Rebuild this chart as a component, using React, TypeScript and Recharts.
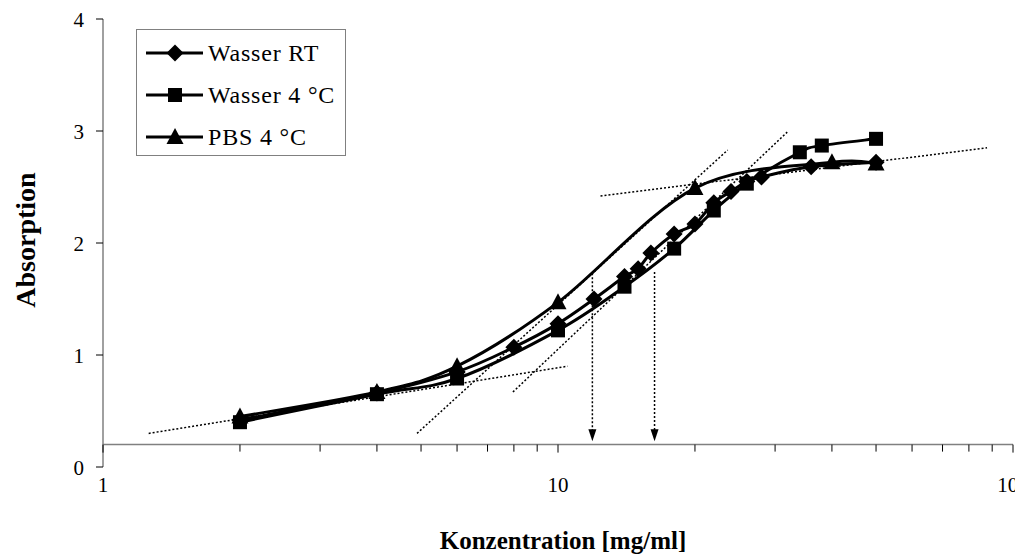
import React from 'react';
import { LineChart, Line, XAxis, YAxis, ReferenceLine, ReferenceDot, Legend, Label } from 'recharts';

// Absorption vs. Konzentration [mg/ml] for the three dilution series
const rtConc = [2, 4, 6, 8, 10, 12, 14, 15, 16, 18, 20, 22, 24, 26, 28, 36, 50];
const rtAbs = [0.42, 0.66, 0.85, 1.07, 1.28, 1.5, 1.7, 1.77, 1.91, 2.08, 2.17, 2.36, 2.46, 2.55, 2.59, 2.68, 2.72];

const w4Conc = [2, 4, 6, 10, 14, 18, 22, 26, 34, 38, 50];
const w4Abs = [0.4, 0.65, 0.79, 1.22, 1.61, 1.95, 2.29, 2.53, 2.81, 2.87, 2.93];

const pbsConc = [2, 4, 6, 10, 20, 40, 50];
const pbsAbs = [0.45, 0.67, 0.9, 1.47, 2.49, 2.72, 2.71];

const seriesNames = ['Wasser RT', 'Wasser 4 °C', 'PBS 4 °C'];

const xTicks = [1, 2, 3, 4, 5, 6, 7, 8, 9, 10, 20, 30, 40, 50, 60, 70, 80, 90, 100];
const xLabeled = [1, 10, 100];
const yTicks = [0, 1, 2, 3, 4];

// dotted tangents: [x1, y1, x2, y2]
const tangents = [
  [1.26, 0.3, 10.5, 0.9],
  [4.9, 0.3, 23.6, 2.83],
  [7.96, 0.67, 31.9, 2.99],
  [12.4, 2.42, 87.7, 2.85],
];

// turning points, marked with arrows down to the axis
const halfConc = [11.9, 16.3];
const halfAbs = [1.73, 1.74];
const arrowTipAbs = 0.23;
const axisCrossAbs = 0.2;

const FONT = '"Liberation Serif", "Times New Roman", serif';

const toPoints = (xs: number[], ys: number[]) => xs.map((x, i) => ({ x, y: ys[i] }));
const rtData = toPoints(rtConc, rtAbs);
const w4Data = toPoints(w4Conc, w4Abs);
const pbsData = toPoints(pbsConc, pbsAbs);

// Bezier smoothing like the office-style "smoothed line" (tangent = (next - prev) / 6)
function smoothCurve(context: any) {
  let pts: number[][] = [];
  return {
    areaStart() {},
    areaEnd() {},
    lineStart() {
      pts = [];
    },
    point(x: number, y: number) {
      pts.push([+x, +y]);
    },
    lineEnd() {
      const n = pts.length;
      if (!n) return;
      context.moveTo(pts[0][0], pts[0][1]);
      for (let i = 0; i < n - 1; i++) {
        const p0 = pts[Math.max(0, i - 1)];
        const p1 = pts[i];
        const p2 = pts[i + 1];
        const p3 = pts[Math.min(n - 1, i + 2)];
        context.bezierCurveTo(
          p1[0] + (p2[0] - p0[0]) / 6,
          p1[1] + (p2[1] - p0[1]) / 6,
          p2[0] - (p3[0] - p1[0]) / 6,
          p2[1] - (p3[1] - p1[1]) / 6,
          p2[0],
          p2[1]
        );
      }
    },
  };
}

const Diamond = ({ cx, cy }: any) => (
  <path d={`M${cx},${cy - 8.5}L${cx + 8.5},${cy}L${cx},${cy + 8.5}L${cx - 8.5},${cy}Z`} fill="#000" />
);
const Square = ({ cx, cy }: any) => <rect x={cx - 7} y={cy - 7} width={14} height={14} fill="#000" />;
const Triangle = ({ cx, cy }: any) => (
  <path d={`M${cx},${cy - 9}L${cx + 8.5},${cy + 7}L${cx - 8.5},${cy + 7}Z`} fill="#000" />
);

const MARKERS: Record<string, React.FC<any>> = {
  'Wasser RT': Diamond,
  'Wasser 4 °C': Square,
  'PBS 4 °C': Triangle,
};

const XTick = ({ x, y, payload }: any) => {
  const major = xLabeled.includes(payload.value);
  const axisY = y - 22.4;
  return (
    <g>
      <line x1={x} y1={axisY} x2={x} y2={axisY + (major ? 8 : 7)} stroke="#000" strokeWidth={1} />
      {major && (
        <text x={x} y={y + 25} textAnchor="middle" fontFamily={FONT} fontSize={21} fill="#000">
          {payload.value}
        </text>
      )}
    </g>
  );
};

const YTick = ({ x, y, payload }: any) => (
  <text x={x} y={y + 8} textAnchor="end" fontFamily={FONT} fontSize={21} fill="#000">
    {payload.value}
  </text>
);

const ArrowHead = ({ cx, cy }: any) => (
  <path d={`M${cx},${cy}L${cx - 4},${cy - 12}L${cx + 4},${cy - 12}Z`} fill="#000" />
);

const renderLegend = ({ payload }: any) => {
  const entries = [...(payload || [])].sort(
    (a: any, b: any) => seriesNames.indexOf(a.value) - seriesNames.indexOf(b.value)
  );
  return (
    <div
      style={{
        width: 210,
        height: 127,
        boxSizing: 'border-box',
        border: '1px solid #808080',
        background: '#fff',
        paddingTop: 2,
      }}
    >
      {entries.map((entry: any) => {
        const Marker = MARKERS[entry.value] || Diamond;
        return (
          <div key={entry.value} style={{ display: 'flex', alignItems: 'center', height: 42 }}>
            <svg width={66} height={42}>
              <line x1={9} y1={21} x2={66} y2={21} stroke="#000" strokeWidth={3} />
              <Marker cx={38} cy={21} />
            </svg>
            <span
              style={{
                marginLeft: 5,
                fontFamily: FONT,
                fontSize: 24,
                letterSpacing: 0.8,
                color: '#000',
                whiteSpace: 'nowrap',
              }}
            >
              {entry.value}
            </span>
          </div>
        );
      })}
    </div>
  );
};

export default function App() {
  return (
    <div style={{ width: 1015, height: 550, fontFamily: FONT }}>
      <LineChart width={1015} height={550} margin={{ top: 11, right: 10, bottom: 31, left: 0 }}>
        <XAxis
          type="number"
          dataKey="x"
          scale="log"
          domain={[1, 100]}
          allowDataOverflow
          ticks={xTicks}
          interval={0}
          axisLine={false}
          tickLine={false}
          tickSize={0}
          tickMargin={0}
          height={60}
          tick={<XTick />}
        >
          <Label
            content={({ viewBox }: any) => (
              <text
                x={viewBox.x + viewBox.width / 2 + 5}
                y={viewBox.y + 82}
                textAnchor="middle"
                fontFamily={FONT}
                fontWeight="bold"
                fontSize={25}
                fill="#000"
              >
                Konzentration [mg/ml]
              </text>
            )}
          />
        </XAxis>
        <YAxis
          type="number"
          domain={[0, 4]}
          allowDataOverflow
          ticks={yTicks}
          interval={0}
          width={95}
          axisLine={{ stroke: '#808080', strokeWidth: 1.5 }}
          tickLine={{ stroke: '#000' }}
          tickSize={7}
          tickMargin={12}
          tick={<YTick />}
        >
          <Label
            content={({ viewBox }: any) => {
              const cx = viewBox.x + 17;
              const cy = viewBox.y + viewBox.height / 2 - 3;
              return (
                <text
                  x={cx}
                  y={cy}
                  transform={`rotate(-90, ${cx}, ${cy})`}
                  textAnchor="middle"
                  dominantBaseline="central"
                  fontFamily={FONT}
                  fontWeight="bold"
                  fontSize={28}
                  fill="#000"
                >
                  Absorption
                </text>
              );
            }}
          />
        </YAxis>

        {/* horizontal axis line crosses the value axis above zero */}
        <ReferenceLine y={axisCrossAbs} stroke="#808080" strokeWidth={1.5} ifOverflow="visible" />

        {tangents.map((t, i) => (
          <ReferenceLine
            key={`t${i}`}
            segment={[
              { x: t[0], y: t[1] },
              { x: t[2], y: t[3] },
            ]}
            stroke="#000"
            strokeWidth={1.5}
            strokeDasharray="2 2"
            ifOverflow="visible"
          />
        ))}
        {halfConc.map((c, i) => (
          <ReferenceLine
            key={`h${i}`}
            segment={[
              { x: c, y: halfAbs[i] },
              { x: c, y: arrowTipAbs + 0.1 },
            ]}
            stroke="#000"
            strokeWidth={1.5}
            strokeDasharray="2 2"
            ifOverflow="visible"
          />
        ))}
        {halfConc.map((c, i) => (
          <ReferenceDot key={`a${i}`} x={c} y={arrowTipAbs} r={0} ifOverflow="visible" shape={(p: any) => <ArrowHead {...p} />} />
        ))}

        <Line
          data={rtData}
          dataKey="y"
          name="Wasser RT"
          type={smoothCurve as any}
          stroke="#000"
          strokeWidth={3}
          dot={(p: any) => <Diamond key={`rt${p.index}`} cx={p.cx} cy={p.cy} />}
          activeDot={false}
          isAnimationActive={false}
        />
        <Line
          data={w4Data}
          dataKey="y"
          name="Wasser 4 °C"
          type={smoothCurve as any}
          stroke="#000"
          strokeWidth={3}
          dot={(p: any) => <Square key={`w4${p.index}`} cx={p.cx} cy={p.cy} />}
          activeDot={false}
          isAnimationActive={false}
        />
        <Line
          data={pbsData}
          dataKey="y"
          name="PBS 4 °C"
          type={smoothCurve as any}
          stroke="#000"
          strokeWidth={3}
          dot={(p: any) => <Triangle key={`pbs${p.index}`} cx={p.cx} cy={p.cy} />}
          activeDot={false}
          isAnimationActive={false}
        />

        <Legend
          layout="vertical"
          align="center"
          verticalAlign="middle"
          content={renderLegend}
          wrapperStyle={{ left: 128, top: 21, width: 210, height: 127 }}
        />
      </LineChart>
    </div>
  );
}
